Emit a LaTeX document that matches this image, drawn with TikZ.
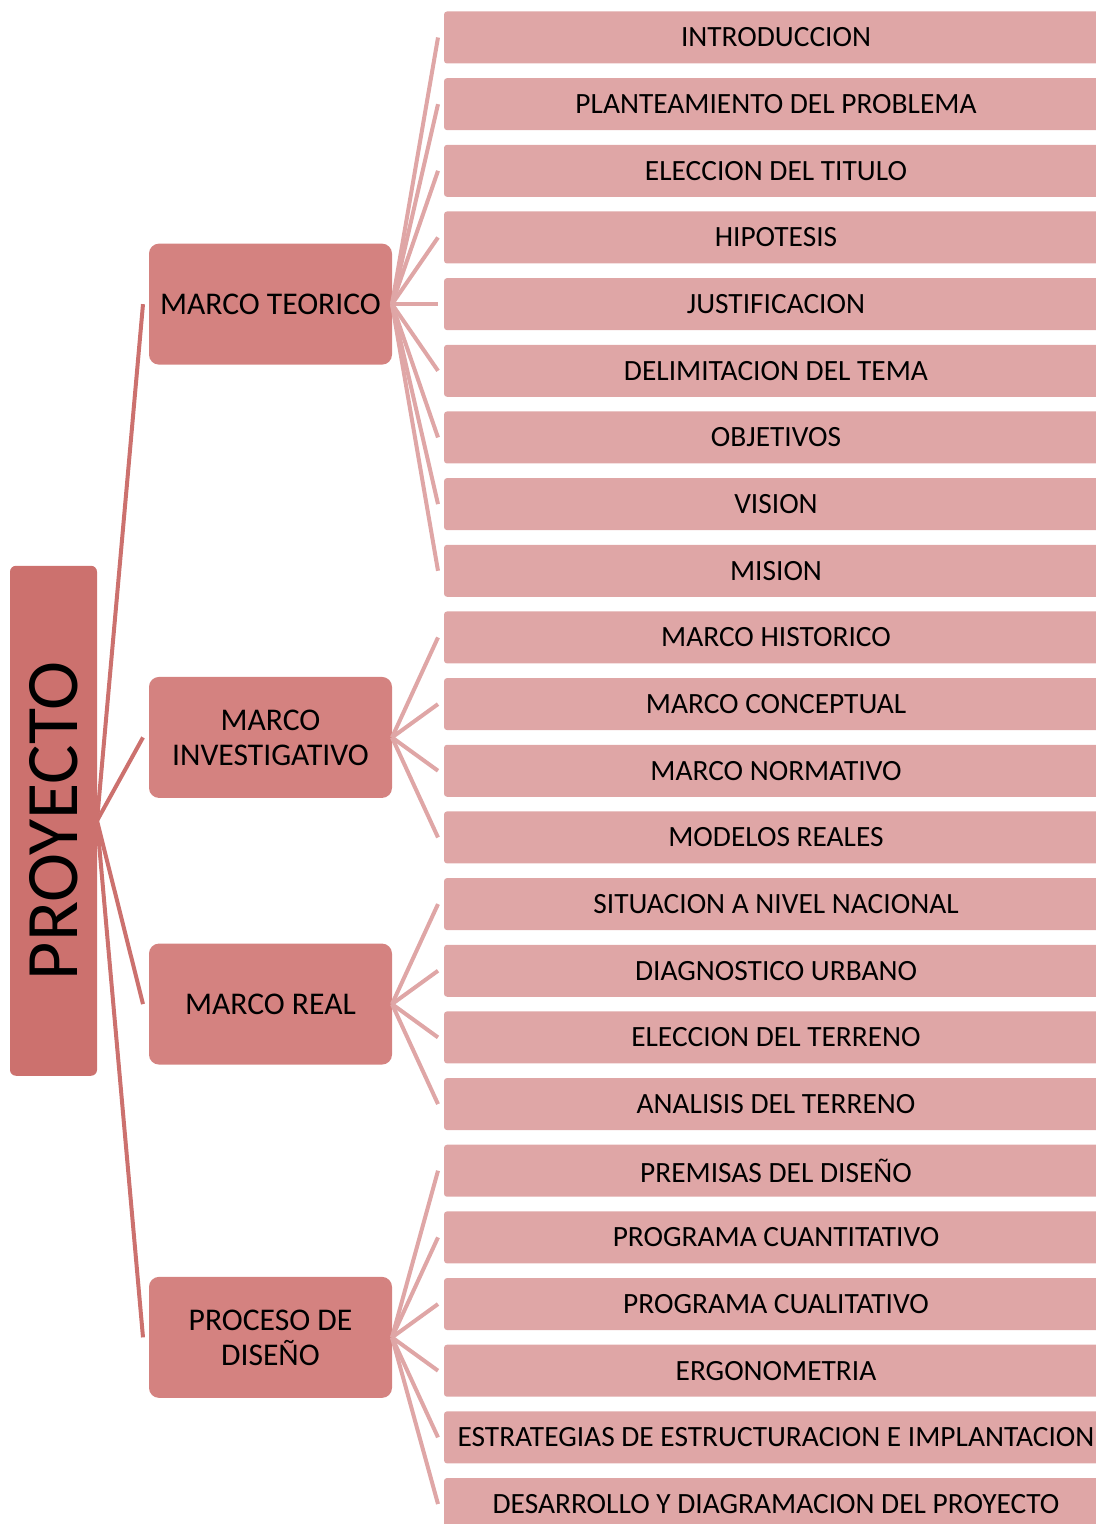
\documentclass[tikz,border=0pt]{standalone}
\usepackage{fontspec}
\setmainfont{Carlito}
\usepackage{tikz}
\usetikzlibrary{positioning, calc}
\definecolor{proy}{RGB}{204,113,110}
\definecolor{marco}{RGB}{212,130,128}
\definecolor{leafpink}{RGB}{223,166,166}

\begin{document}
\begin{tikzpicture}[x=0.5pt, y=-0.5pt, font=\fontsize{14.7}{17.5}\selectfont, node distance=7.33pt,
    leaf/.style={fill=leafpink, rounded corners=1.5pt, minimum width=332pt, minimum height=26pt, inner sep=0pt, outer sep=0pt},
    marcobox/.style={fill=marco, rounded corners=5pt, minimum width=121.5pt, minimum height=60.5pt, align=center, inner sep=2pt, outer sep=0pt, font=\fontsize{15.8}{17.5}\selectfont},
    proybox/.style={fill=proy, rounded corners=3pt, minimum width=255pt, minimum height=43.5pt, inner sep=0pt, outer sep=0pt, font=\fontsize{37}{40}\selectfont},
    link/.style={draw=leafpink, line width=2pt},
    mainlink/.style={draw=proy, line width=2pt}]
    \useasboundingbox (0,0) rectangle (1096,1524);
    \clip (0,0) rectangle (1096,1524);

    % right column
    \node[leaf] (intro) at (776,37.5) {INTRODUCCION};
    \node[leaf, below=of intro] (plant) {PLANTEAMIENTO DEL PROBLEMA};
    \node[leaf, below=of plant] (titulo) {ELECCION DEL TITULO};
    \node[leaf, below=of titulo] (hipo) {HIPOTESIS};
    \node[leaf, below=of hipo] (justif) {JUSTIFICACION};
    \node[leaf, below=of justif] (delim) {DELIMITACION DEL TEMA};
    \node[leaf, below=of delim] (obj) {OBJETIVOS};
    \node[leaf, below=of obj] (vision) {VISION};
    \node[leaf, below=of vision] (mision) {MISION};
    \node[leaf, below=of mision] (hist) {MARCO HISTORICO};
    \node[leaf, below=of hist] (concep) {MARCO CONCEPTUAL};
    \node[leaf, below=of concep] (norma) {MARCO NORMATIVO};
    \node[leaf, below=of norma] (modelos) {MODELOS REALES};
    \node[leaf, below=of modelos] (situ) {SITUACION A NIVEL NACIONAL};
    \node[leaf, below=of situ] (diag) {DIAGNOSTICO URBANO};
    \node[leaf, below=of diag] (elecc) {ELECCION DEL TERRENO};
    \node[leaf, below=of elecc] (anal) {ANALISIS DEL TERRENO};
    \node[leaf, below=of anal] (premisas) {PREMISAS DEL DISEÑO};
    \node[leaf, below=of premisas] (cuanti) {PROGRAMA CUANTITATIVO};
    \node[leaf, below=of cuanti] (cuali) {PROGRAMA CUALITATIVO};
    \node[leaf, below=of cuali] (ergo) {ERGONOMETRIA};
    \node[leaf, below=of ergo] (estrat) {ESTRATEGIAS DE ESTRUCTURACION E IMPLANTACION};
    \node[leaf, below=of estrat] (desarr) {DESARROLLO Y DIAGRAMACION DEL PROYECTO};

    % middle column
    \coordinate (mt) at ($(intro.west)!0.5!(mision.west)$);
    \coordinate (mi) at ($(hist.west)!0.5!(modelos.west)$);
    \coordinate (mr) at ($(situ.west)!0.5!(anal.west)$);
    \coordinate (md) at ($(premisas.west)!0.5!(desarr.west)$);
    \node[marcobox, left=26pt of mt] (teorico) {MARCO TEORICO};
    \node[marcobox, left=26pt of mi] (investig) {MARCO\\INVESTIGATIVO};
    \node[marcobox, left=26pt of mr] (real) {MARCO REAL};
    \node[marcobox, left=26pt of md] (proceso) {PROCESO DE\\DISEÑO};

    % root
    \coordinate (mp) at ($(teorico.west)!0.5!(proceso.west)$);
    \node[proybox, rotate=90] (proyecto) at ($(mp)+(-95.5,0)$) {PROYECTO};

    \draw[mainlink] (proyecto.south) -- ([xshift=-3pt]teorico.west);
    \draw[mainlink] (proyecto.south) -- ([xshift=-3pt]investig.west);
    \draw[mainlink] (proyecto.south) -- ([xshift=-3pt]real.west);
    \draw[mainlink] (proyecto.south) -- ([xshift=-3pt]proceso.west);

    \draw[link] (teorico.east) -- ([xshift=-3pt]intro.west);
    \draw[link] (teorico.east) -- ([xshift=-3pt]plant.west);
    \draw[link] (teorico.east) -- ([xshift=-3pt]titulo.west);
    \draw[link] (teorico.east) -- ([xshift=-3pt]hipo.west);
    \draw[link] (teorico.east) -- ([xshift=-3pt]justif.west);
    \draw[link] (teorico.east) -- ([xshift=-3pt]delim.west);
    \draw[link] (teorico.east) -- ([xshift=-3pt]obj.west);
    \draw[link] (teorico.east) -- ([xshift=-3pt]vision.west);
    \draw[link] (teorico.east) -- ([xshift=-3pt]mision.west);

    \draw[link] (investig.east) -- ([xshift=-3pt]hist.west);
    \draw[link] (investig.east) -- ([xshift=-3pt]concep.west);
    \draw[link] (investig.east) -- ([xshift=-3pt]norma.west);
    \draw[link] (investig.east) -- ([xshift=-3pt]modelos.west);

    \draw[link] (real.east) -- ([xshift=-3pt]situ.west);
    \draw[link] (real.east) -- ([xshift=-3pt]diag.west);
    \draw[link] (real.east) -- ([xshift=-3pt]elecc.west);
    \draw[link] (real.east) -- ([xshift=-3pt]anal.west);

    \draw[link] (proceso.east) -- ([xshift=-3pt]premisas.west);
    \draw[link] (proceso.east) -- ([xshift=-3pt]cuanti.west);
    \draw[link] (proceso.east) -- ([xshift=-3pt]cuali.west);
    \draw[link] (proceso.east) -- ([xshift=-3pt]ergo.west);
    \draw[link] (proceso.east) -- ([xshift=-3pt]estrat.west);
    \draw[link] (proceso.east) -- ([xshift=-3pt]desarr.west);
  \end{tikzpicture}
\end{document}
